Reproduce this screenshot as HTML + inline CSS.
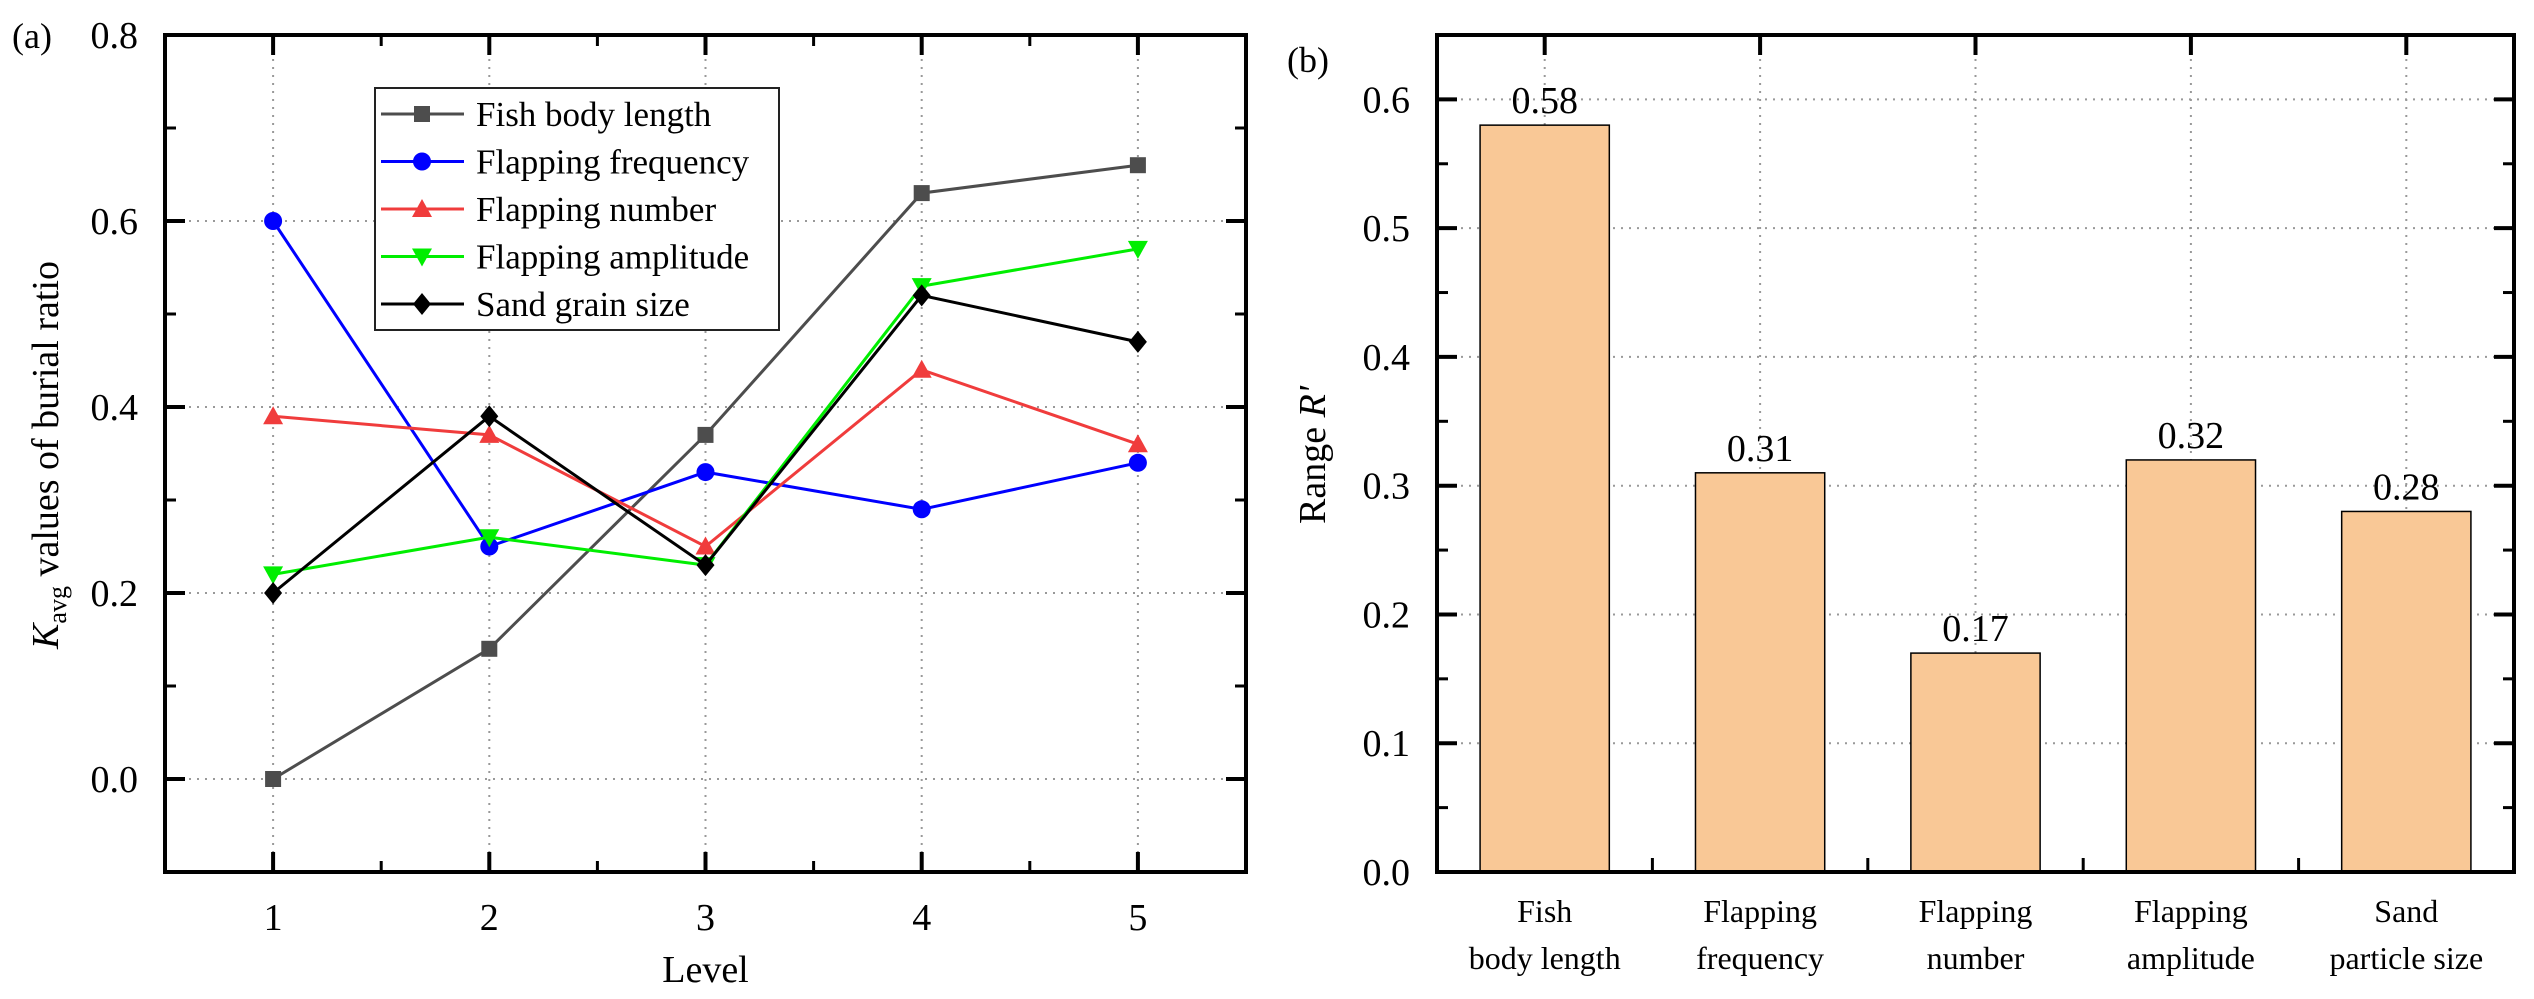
<!DOCTYPE html>
<html><head><meta charset="utf-8"><style>
html,body{margin:0;padding:0;background:#fff}
svg{display:block}
text{font-family:"Liberation Serif",serif;fill:#000}
</style></head><body>
<svg id="chart" width="2534" height="999" viewBox="0 0 2534 999" xmlns="http://www.w3.org/2000/svg">
<g id="pa"></g>
<g id="pb"></g>
</svg>
<script>
const levels=[1,2,3,4,5];
const fishLen=[0.00,0.14,0.37,0.63,0.66];
const flapFreq=[0.60,0.25,0.33,0.29,0.34];
const flapNum=[0.39,0.37,0.25,0.44,0.36];
const flapAmp=[0.22,0.26,0.23,0.53,0.57];
const sandSize=[0.20,0.39,0.23,0.52,0.47];
const seriesNames=["Fish body length","Flapping frequency","Flapping number","Flapping amplitude","Sand grain size"];
const aTicks=["0.0","0.2","0.4","0.6","0.8"];
const categories=[["Fish","body length"],["Flapping","frequency"],["Flapping","number"],["Flapping","amplitude"],["Sand","particle size"]];
const rangeVals=[0.58,0.31,0.17,0.32,0.28];
const rangeLabels=["0.58","0.31","0.17","0.32","0.28"];
const bTicks=["0.0","0.1","0.2","0.3","0.4","0.5","0.6"];

const NS="http://www.w3.org/2000/svg";
function mk(p,tag,at,txt){const e=document.createElementNS(NS,tag);for(const k in at)e.setAttribute(k,at[k]);if(txt!==undefined)e.textContent=txt;p.appendChild(e);return e;}

// ---------- Panel A ----------
const pa=document.getElementById('pa');
const AL=165,AR=1246,AT=35,AB=872;
const ax=v=>AL+(v-0.5)/5*(AR-AL);
const ay=v=>AB-(v+0.1)/0.9*(AB-AT);
// grid
for(let i=0;i<levels.length;i++){const g=mk(pa,'line',{x1:ax(levels[i]),x2:ax(levels[i]),y1:AT,y2:AB,stroke:'#999','stroke-width':2,'stroke-dasharray':'2 6'});
}
for(let i=0;i<aTicks.length;i++){const v=parseFloat(aTicks[i]);const g=mk(pa,'line',{x1:AL,x2:AR,y1:ay(v),y2:ay(v),stroke:'#999','stroke-width':2,'stroke-dasharray':'2 6'});
}
// ticks
for(let i=0;i<levels.length;i++){const x=ax(levels[i]);
mk(pa,'line',{x1:x,x2:x,y1:AB,y2:AB-20,stroke:'#000','stroke-width':4});
mk(pa,'line',{x1:x,x2:x,y1:AT,y2:AT+20,stroke:'#000','stroke-width':4});
const t=mk(pa,'text',{x:x,y:930,'text-anchor':'middle','font-size':38},String(levels[i]));

if(i<levels.length-1){const xm=ax(levels[i]+0.5);
mk(pa,'line',{x1:xm,x2:xm,y1:AB,y2:AB-11,stroke:'#000','stroke-width':3});
mk(pa,'line',{x1:xm,x2:xm,y1:AT,y2:AT+11,stroke:'#000','stroke-width':3});}}
for(let v=-0.1;v<=0.801;v+=0.1){const y=ay(v);const major=Math.abs(Math.round(v*10)%2)===0;const L=major?20:11;
mk(pa,'line',{x1:AL,x2:AL+L,y1:y,y2:y,stroke:'#000','stroke-width':major?4:3});
mk(pa,'line',{x1:AR,x2:AR-L,y1:y,y2:y,stroke:'#000','stroke-width':major?4:3});}
for(let i=0;i<aTicks.length;i++){const t=mk(pa,'text',{x:138,y:ay(parseFloat(aTicks[i]))+13,'text-anchor':'end','font-size':38},aTicks[i]);
}
const fa=mk(pa,'rect',{x:AL,y:AT,width:AR-AL,height:AB-AT,fill:'none',stroke:'#000','stroke-width':4});

// labels
let t=mk(pa,'text',{x:ax(3),y:982,'text-anchor':'middle','font-size':38},'Level');

t=mk(pa,'text',{x:0,y:0,transform:'translate(58,455) rotate(-90)','text-anchor':'middle','font-size':38});

mk(t,'tspan',{'font-style':'italic'},'K');mk(t,'tspan',{'font-size':26,dy:8},'avg');mk(t,'tspan',{dy:-8},' values of burial ratio');
t=mk(pa,'text',{x:12,y:48,'font-size':36},'(a)');


const allSeries=[fishLen,flapFreq,flapNum,flapAmp,sandSize];
const colors=['#4d4d4d','#0000ff','#f03c3c','#00ee00','#000000'];
const shapes=['square','circle','up','down','diamond'];
function marker(p,shape,x,y,c){const s=8;
if(shape==='square')return mk(p,'rect',{x:x-s,y:y-s,width:2*s,height:2*s,fill:c});
if(shape==='circle')return mk(p,'circle',{cx:x,cy:y,r:s+1,fill:c});
if(shape==='up')return mk(p,'polygon',{points:`${x},${y-s-2} ${x+s+2},${y+s} ${x-s-2},${y+s}`,fill:c});
if(shape==='down')return mk(p,'polygon',{points:`${x},${y+s+2} ${x+s+2},${y-s} ${x-s-2},${y-s}`,fill:c});
return mk(p,'polygon',{points:`${x},${y-s-3} ${x+s+1},${y} ${x},${y+s+3} ${x-s-1},${y}`,fill:c});}
for(let k=0;k<allSeries.length;k++){
const g=mk(pa,'g',{});
const pts=allSeries[k].map((v,i)=>ax(levels[i])+','+ay(v)).join(' ');
const pl=mk(g,'polyline',{points:pts,fill:'none',stroke:colors[k],'stroke-width':3});

allSeries[k].forEach((v,i)=>{const m=marker(g,shapes[k],ax(levels[i]),ay(v),colors[k]);
});}
// legend
const lg=mk(pa,'g',{});
mk(lg,'rect',{x:375,y:88,width:404,height:242,fill:'#fff',stroke:'#222','stroke-width':2});
for(let k=0;k<seriesNames.length;k++){const y=114+k*47.5;
const e=mk(lg,'g',{});
mk(e,'line',{x1:381,x2:464,y1:y,y2:y,stroke:colors[k],'stroke-width':3});
marker(e,shapes[k],422,y,colors[k]);
mk(e,'text',{x:476,y:y+12,'font-size':35},seriesNames[k]);}

// ---------- Panel B ----------
const pb=document.getElementById('pb');
const BL=1437,BR=2514,BT=35,BB=872;
const bx=i=>BL+(i+0.5)/5*(BR-BL);
const by=v=>BB-v/0.65*(BB-BT);
for(let i=0;i<categories.length;i++){const g=mk(pb,'line',{x1:bx(i),x2:bx(i),y1:BT,y2:BB,stroke:'#999','stroke-width':2,'stroke-dasharray':'2 6'});
}
for(let i=1;i<bTicks.length;i++){const v=parseFloat(bTicks[i]);const g=mk(pb,'line',{x1:BL,x2:BR,y1:by(v),y2:by(v),stroke:'#999','stroke-width':2,'stroke-dasharray':'2 6'});
}
const bw=(BR-BL)/5*0.6;
for(let i=0;i<rangeVals.length;i++){
const r=mk(pb,'rect',{x:bx(i)-bw/2,y:by(rangeVals[i]),width:bw,height:BB-by(rangeVals[i]),fill:'#f9c896',stroke:'#000','stroke-width':1.5});

const l=mk(pb,'text',{x:bx(i),y:by(rangeVals[i])-12,'text-anchor':'middle','font-size':38},rangeLabels[i]);

const c=mk(pb,'text',{x:bx(i),y:922,'text-anchor':'middle','font-size':32});

mk(c,'tspan',{x:bx(i)},categories[i][0]);mk(c,'tspan',{x:bx(i),dy:47},categories[i][1]);
mk(pb,'line',{x1:bx(i),x2:bx(i),y1:BT,y2:BT+20,stroke:'#000','stroke-width':4});
if(i<4){const xm=BL+(i+1)/5*(BR-BL);mk(pb,'line',{x1:xm,x2:xm,y1:BB,y2:BB-14,stroke:'#000','stroke-width':3});}}
for(let v=0;v<=0.651;v+=0.05){const y=by(v);const major=Math.round(v*100)%10===0;const L=major?20:11;
mk(pb,'line',{x1:BL,x2:BL+L,y1:y,y2:y,stroke:'#000','stroke-width':major?4:3});
mk(pb,'line',{x1:BR,x2:BR-L,y1:y,y2:y,stroke:'#000','stroke-width':major?4:3});}
for(let i=0;i<bTicks.length;i++){const t2=mk(pb,'text',{x:1410,y:by(parseFloat(bTicks[i]))+13,'text-anchor':'end','font-size':38},bTicks[i]);
}
const fb=mk(pb,'rect',{x:BL,y:BT,width:BR-BL,height:BB-BT,fill:'none',stroke:'#000','stroke-width':4});

t=mk(pb,'text',{x:0,y:0,transform:'translate(1325,455) rotate(-90)','text-anchor':'middle','font-size':38});

mk(t,'tspan',{},'Range ');mk(t,'tspan',{'font-style':'italic'},"R'");
t=mk(pb,'text',{x:1287,y:72,'font-size':36},'(b)');

</script>
</body></html>
